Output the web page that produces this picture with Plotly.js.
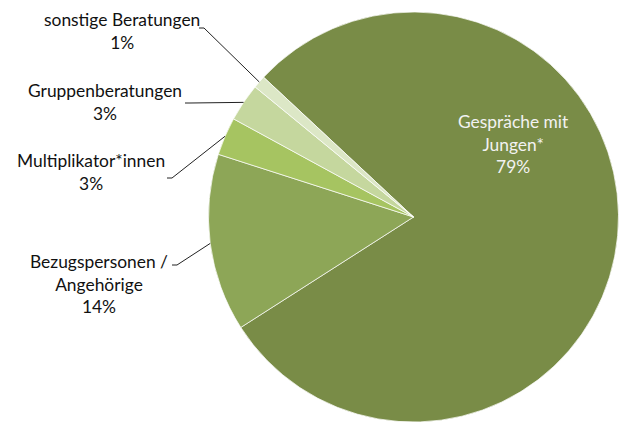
<!DOCTYPE html>
<html>
<head>
<meta charset="utf-8">
<script src="https://cdn.plot.ly/plotly-3.0.1.min.js"></script>
<style>
  html, body { margin: 0; padding: 0; background: #fff; }
  #chart { width: 619px; height: 422px; }
</style>
</head>
<body>
<div id="chart"></div>
<script>
// Beratungsarten (Anteile in %)
const categories = ['Gespräche mit Jungen*', 'Bezugspersonen / Angehörige', 'Multiplikator*innen', 'Gruppenberatungen', 'sonstige Beratungen'];
const labelLines = ['Gespräche mit<br>Jungen*', 'Bezugspersonen /<br>Angehörige', 'Multiplikator*innen', 'Gruppenberatungen', 'sonstige Beratungen'];
const values = [79, 14, 3, 3, 1];
const colors = ['#798C47', '#8DA657', '#A6C461', '#C5D79E', '#DCE7C6'];

const W = 619, H = 422;
const pieLeft = 208, pieTop = 12;
const rotation = -47;

// where each label sits (pixel centre of the text block)
const labelPos = [[513, 144], [99, 284], [91, 172], [105, 102], [122, 31]];
// where each leader line leaves the text
const leaderStart = [null, [172, 265], [167, 178], [185, 103], [199, 28]];

const px = x => x / W;
const py = y => 1 - y / H;

// pie geometry follows the domain below
const R = Math.min(W - pieLeft, H - pieTop) / 2;
const cx = (pieLeft + W) / 2;
const cy = H - R;
const total = values.reduce((a, b) => a + b, 0);

const annotations = [];
const shapes = [];
let start = rotation;
values.forEach((v, i) => {
  const mid = (start + v / total * 180) * Math.PI / 180;
  start += v / total * 360;
  const pct = Math.round(v / total * 100) + '%';
  annotations.push({
    xref: 'paper', yref: 'paper',
    x: px(labelPos[i][0]), y: py(labelPos[i][1]),
    xanchor: 'center', yanchor: 'middle',
    text: labelLines[i] + '<br>' + pct,
    showarrow: false,
    font: { family: 'Lato, sans-serif', size: 17.4, color: i === 0 ? '#F2F2F2' : '#111' }
  });
  if (leaderStart[i]) {
    const ex = cx + R * Math.sin(mid);
    const ey = cy - R * Math.cos(mid);
    const [sx, sy] = leaderStart[i];
    shapes.push({
      type: 'path', xref: 'paper', yref: 'paper',
      path: `M ${px(sx)} ${py(sy)} L ${px(sx + 5)} ${py(sy)} L ${px(ex)} ${py(ey)}`,
      line: { color: '#222', width: 1 }
    });
  }
});

const data = [{
  type: 'pie',
  labels: categories,
  values: values,
  sort: false,
  direction: 'clockwise',
  rotation: rotation,
  textinfo: 'none',
  hoverinfo: 'label+percent',
  marker: { colors: colors, line: { color: '#fff', width: 0.7 } },
  domain: { x: [pieLeft / W, 1], y: [0, 1 - pieTop / H] }
}];

const layout = {
  width: W, height: H,
  margin: { l: 0, r: 0, t: 0, b: 0 },
  paper_bgcolor: '#fff',
  showlegend: false,
  annotations: annotations,
  shapes: shapes
};

Plotly.newPlot('chart', data, layout, { staticPlot: true });
</script>
</body>
</html>
